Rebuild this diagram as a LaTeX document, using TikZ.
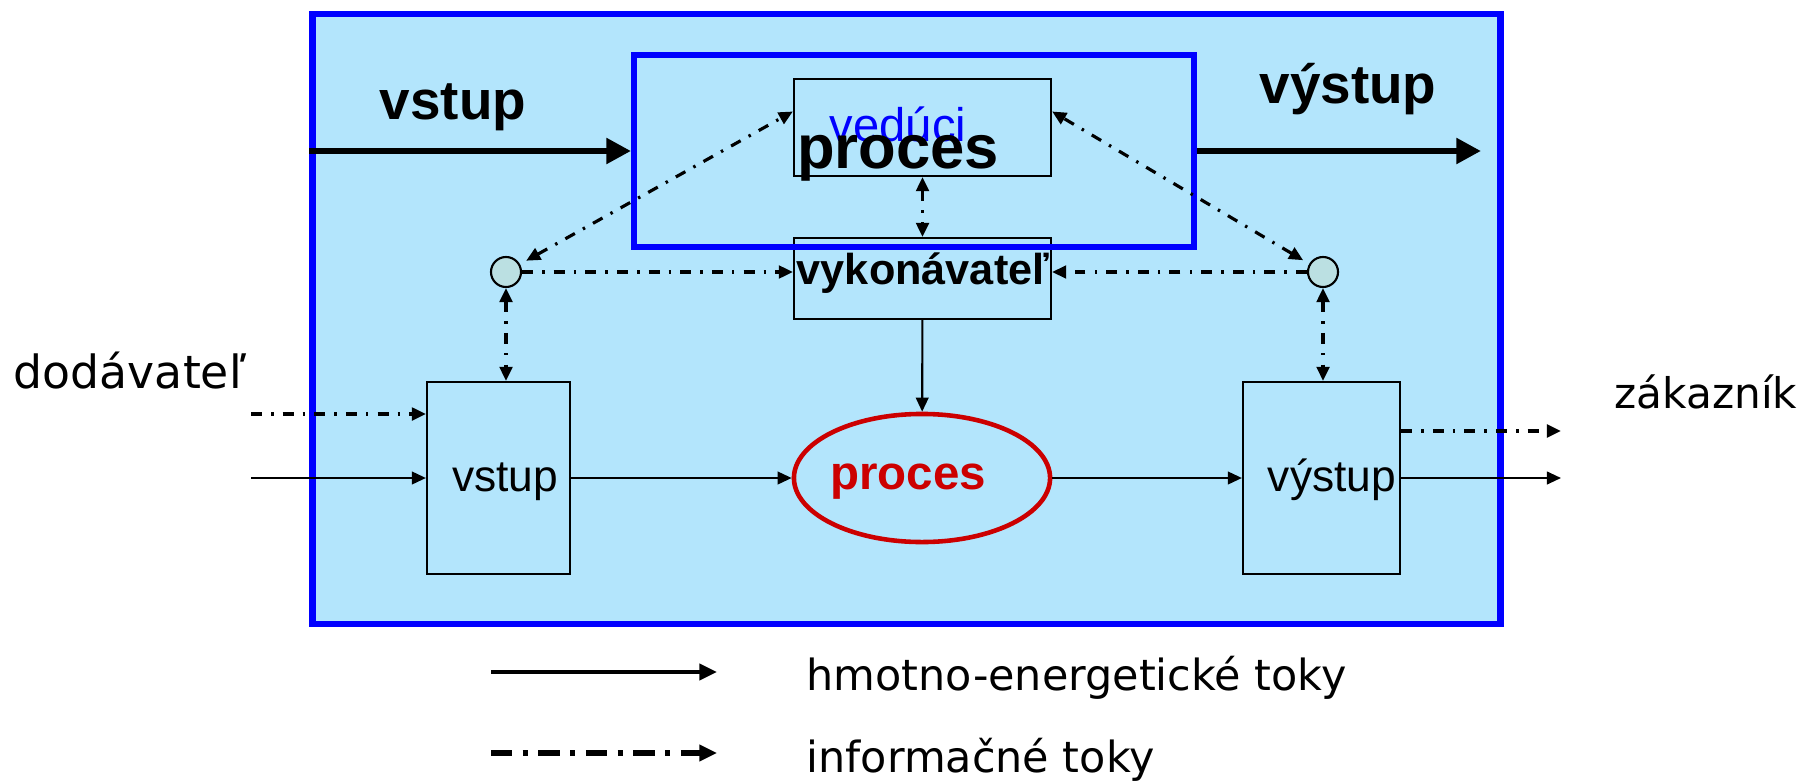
\documentclass[tikz,border=0pt]{standalone}
\usepackage{fontspec}
\setmainfont{Liberation Sans}
\newfontfamily\dejavu{DejaVu Sans}
\usetikzlibrary{arrows.meta,shapes.geometric}
\definecolor{sysblue}{RGB}{179,229,252}
\definecolor{dotgray}{RGB}{187,224,226}
\definecolor{procred}{RGB}{204,0,0}

\begin{document}
\begin{tikzpicture}[x=0.01cm,y=-0.01cm,
		>={Triangle[length=4pt,width=3.6pt]},
		box/.style={draw,line width=0.6pt,inner sep=0pt},
		dot/.style={circle,draw,fill=dotgray,line width=0.6pt,minimum size=0.30cm,inner sep=0pt},
		flow/.style={line width=0.6pt,->},
		bigflow/.style={line width=1.8pt,-{Triangle[length=7pt,width=7pt]}},
		info/.style={line width=0.9pt,dash pattern=on 3.1pt off 2.6pt on 0.7pt off 2.6pt},
		head/.style={font=\fontsize{15.6}{18}\selectfont\bfseries,anchor=base},
		lbl/.style={font=\fontsize{12.6}{15}\selectfont,anchor=base},
		side/.style={font=\dejavu\fontsize{13}{16}\selectfont,anchor=base},
		legend/.style={font=\dejavu\fontsize{12.2}{15}\selectfont,anchor=base west,inner sep=0pt}]
		\useasboundingbox (0,0) rectangle (1813,782);
		%System
		\node[draw=blue,fill=sysblue,line width=1.8pt,minimum width=11.87cm,minimum height=6.10cm] (sys) at (906.5,319) {};
		%Boxes
		\node[box,minimum width=2.57cm,minimum height=0.97cm] (veduci) at (922.5,127.5) {};
		\node[box,minimum width=2.57cm,minimum height=0.81cm] (vykon) at (922.5,278.5) {};
		\node[box,minimum width=1.43cm,minimum height=1.92cm] (vstup) at (498.5,478) {};
		\node[box,minimum width=1.57cm,minimum height=1.92cm] (vystup) at (1321.5,478) {};
		\node[draw=procred,line width=1.3pt,ellipse,minimum width=2.56cm,minimum height=1.28cm,inner sep=0pt] (proces) at (922,478) {};
		\node[dot] (lc) at (506,272) {};
		\node[dot] (rc) at (1323,272) {};
		\node[draw=blue,line width=1.6pt,minimum width=5.60cm,minimum height=1.92cm] (proc) at (914,151) {};
		%Texts
		\node[head] (tin) at (453,120) {vstup};
		\node[head] (tout) at (1348,104) {výstup};
		\node[font=\fontsize{13.4}{16}\selectfont,text=blue,anchor=base] (tved) at (898,142) {vedúci};
		\node[font=\fontsize{17.5}{20}\selectfont\bfseries,anchor=base] (tproc) at (898,169) {proces};
		\node[font=\fontsize{12.3}{14}\selectfont\bfseries,anchor=base] (tvyk) at (923,284) {vykonávateľ};
		\node[lbl] (tvst) at (505,491) {vstup};
		\node[lbl] (tvys) at (1332,491) {výstup};
		\node[font=\fontsize{13.5}{16}\selectfont\bfseries,text=procred,anchor=base] (tpr) at (908,489) {proces};
		\node[side] (tdod) at (130,388) {dodávateľ};
		\node[side,font=\dejavu\fontsize{12}{15}\selectfont] (tzak) at (1706,408) {zákazník};
		%Material flows
		\coordinate (sin) at (251,478);
		\coordinate (kout) at (1561,478);
		\coordinate (eout) at (1481,151);
		\draw[bigflow] (sys.west |- proc.west) -- (proc.west);
		\draw[bigflow] (proc.east) -- (eout);
		\draw[flow] (sin) -- (vstup);
		\draw[flow] (vstup) -- (proces);
		\draw[flow] (proces) -- (vystup);
		\draw[flow] (vystup) -- (kout);
		\draw[flow] (vykon) -- (proces);
		%Information flows
		\coordinate (sinfo) at (251,414);
		\coordinate (kinfo) at (1561,431);
		\draw[info,->] (sinfo) -- (sinfo -| vstup.west);
		\draw[info,->] (vystup.east |- kinfo) -- (kinfo);
		\draw[info,<->] (veduci) -- (vykon);
		\draw[info,<->,shorten <=2pt] (lc) -- ([yshift=0.16cm]veduci.west);
		\draw[info,<->,shorten <=2pt] (rc) -- ([yshift=0.16cm]veduci.east);
		\draw[info,->] (lc) -- (lc -| vykon.west);
		\draw[info,->] (rc) -- (rc -| vykon.east);
		\draw[info,<->] (lc) -- (lc |- vstup.north);
		\draw[info,<->] (rc) -- (rc |- vystup.north);
		%Legend
		\coordinate (la) at (491,672);
		\coordinate (lb) at (717,672);
		\coordinate (lc2) at (491,753);
		\coordinate (ld) at (717,753);
		\draw[line width=1.2pt,-{Triangle[length=5pt,width=4.5pt]}] (la) -- (lb);
		\draw[line width=1.6pt,dash pattern=on 6pt off 3pt on 1.5pt off 3pt,-{Triangle[length=5pt,width=4.5pt]}] (lc2) -- (ld);
		\node[legend] (tl1) at (806,690) {hmotno-energetické toky};
		\node[legend] (tl2) at (806,772) {informačné toky};
\end{tikzpicture}
\end{document}
